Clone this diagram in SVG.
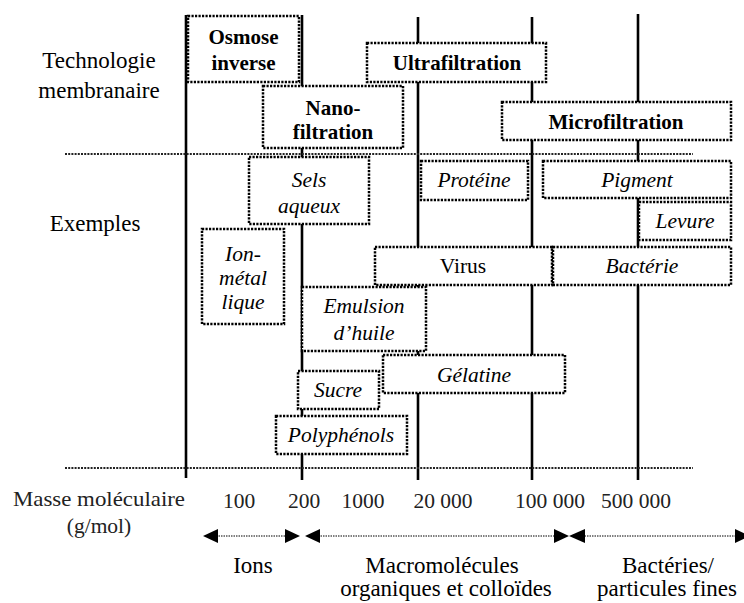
<svg xmlns="http://www.w3.org/2000/svg" width="744" height="603" viewBox="0 0 744 603">
<style>
.bg{fill:#fff}
.vl{stroke:#000;stroke-width:2.6;fill:none}
.sep{stroke:#222;stroke-width:2;stroke-dasharray:2 1.2;fill:none}
.box{fill:#fff;stroke:#000;stroke-width:2.5;stroke-dasharray:2.2 1.3}
.t{font-family:"Liberation Serif",Tinos,"Times New Roman",Times,"Noto Serif","DejaVu Serif",FreeSerif,"Nimbus Roman","Nimbus Roman No9 L",serif;fill:#000;text-anchor:middle}
.b{font-weight:bold;font-size:21px}
.i{font-style:italic;font-size:21.5px}
.r{font-size:21.5px}
.lab{font-size:23px}
.num{font-size:21.5px;fill:#222}
.arr{stroke:#000;stroke-width:1;stroke-dasharray:1.5 1;fill:none}
.ah{fill:#000}
</style>
<rect class="bg" x="0" y="0" width="744" height="603"/>
<g id="axes">
<line class="vl" x1="186" y1="15" x2="186" y2="478"/>
<line class="vl" x1="302" y1="15" x2="302" y2="480"/>
<line class="vl" x1="418" y1="17" x2="418" y2="480"/>
<line class="vl" x1="532" y1="17" x2="532" y2="480"/>
<line class="vl" x1="638" y1="14" x2="638" y2="480"/>
<line class="sep" x1="65" y1="154" x2="693" y2="154"/>
<line class="sep" x1="65" y1="468" x2="693" y2="468"/>
</g>
<g id="labels">
<text class="t lab" x="99" y="68">Technologie</text>
<text class="t lab" x="99" y="98">membranaire</text>
<text class="t lab" x="95" y="231">Exemples</text>
<text class="t num" x="99" y="506" textLength="172" lengthAdjust="spacingAndGlyphs">Masse moléculaire</text>
<text class="t num" x="99" y="533">(g/mol)</text>
<text class="t num" x="239" y="508">100</text>
<text class="t num" x="304" y="508">200</text>
<text class="t num" x="363" y="508">1000</text>
<text class="t num" x="443" y="508">20 000</text>
<text class="t num" x="550" y="508">100 000</text>
<text class="t num" x="636" y="508">500 000</text>
<text class="t lab" x="253" y="573">Ions</text>
<text class="t lab" x="442" y="573">Macromolécules</text>
<text class="t lab" x="446" y="596">organiques et colloïdes</text>
<text class="t lab" x="668" y="573">Bactéries/</text>
<text class="t lab" x="667" y="596">particules fines</text>
</g>
<g id="ranges">
<line class="arr" x1="216" y1="536" x2="287" y2="536"/>
<polygon class="ah" points="203,536 218,529 218,543"/>
<polygon class="ah" points="300,536 285,529 285,543"/>
<line class="arr" x1="318" y1="536" x2="556" y2="536"/>
<polygon class="ah" points="305,536 320,529 320,543"/>
<polygon class="ah" points="569,536 554,529 554,543"/>
<line class="arr" x1="582" y1="536" x2="738" y2="536"/>
<polygon class="ah" points="569,536 585,529 585,543"/>
<polygon class="ah" points="750,536 735,529 735,543"/>
</g>
<g id="osmose"><rect class="box" x="188" y="16" width="111" height="66"/>
<text class="t b" x="243.5" y="44">Osmose</text><text class="t b" x="243.5" y="70">inverse</text></g>
<g id="ultrafiltration"><rect class="box" x="367" y="43" width="179" height="39"/>
<text class="t b" x="457" y="70">Ultrafiltration</text></g>
<g id="nanofiltration"><rect class="box" x="263" y="86" width="140" height="62"/>
<text class="t b" x="333" y="115">Nano-</text><text class="t b" x="333" y="139">filtration</text></g>
<g id="microfiltration"><rect class="box" x="502" y="102" width="229" height="38"/>
<text class="t b" x="616" y="129">Microfiltration</text></g>
<g id="sels"><rect class="box" x="249" y="157" width="120" height="67"/>
<text class="t i" x="309" y="187">Sels</text><text class="t i" x="309" y="213">aqueux</text></g>
<g id="proteine"><rect class="box" x="421" y="161" width="107" height="39"/>
<text class="t i" x="474" y="187">Protéine</text></g>
<g id="pigment"><rect class="box" x="543" y="161" width="188" height="37"/>
<text class="t i" x="637" y="187">Pigment</text></g>
<g id="levure"><rect class="box" x="639" y="202" width="92" height="38"/>
<text class="t i" x="685" y="228">Levure</text></g>
<g id="virus"><rect class="box" x="375" y="247" width="177" height="38"/>
<text class="t r" x="463" y="273">Virus</text></g>
<g id="bacterie"><rect class="box" x="553" y="247" width="178" height="38"/>
<text class="t i" x="642" y="273">Bactérie</text></g>
<g id="ionmetal"><rect class="box" x="202" y="229" width="82" height="95"/>
<text class="t i" x="243" y="261">Ion-</text><text class="t i" x="243" y="285">métal</text><text class="t i" x="243" y="309">lique</text></g>
<g id="emulsion"><rect class="box" x="302" y="287" width="124" height="64"/>
<text class="t i" x="364" y="313">Emulsion</text><text class="t i" x="364" y="340">d’huile</text></g>
<g id="gelatine"><rect class="box" x="383" y="355" width="182" height="38"/>
<text class="t i" x="474" y="382">Gélatine</text></g>
<g id="sucre"><rect class="box" x="298" y="371" width="81" height="38"/>
<text class="t i" x="338" y="397">Sucre</text></g>
<g id="polyphenols"><rect class="box" x="276" y="416" width="131" height="38"/>
<text class="t i" x="341" y="442">Polyphénols</text></g>
</svg>
